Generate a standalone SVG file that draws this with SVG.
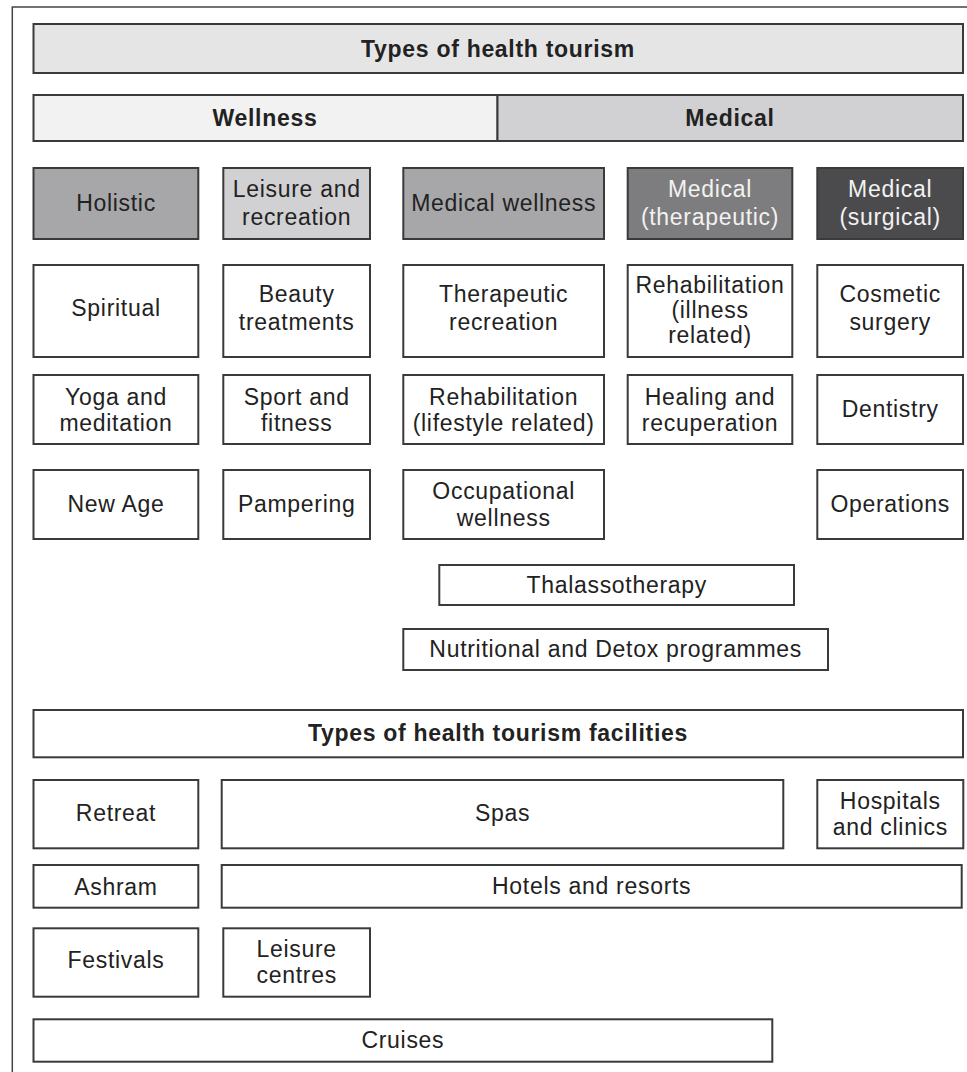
<svg xmlns="http://www.w3.org/2000/svg" width="967" height="1072" viewBox="0 0 967 1072">
<style>
.bx{stroke:#3a3a3a;stroke-width:2;fill:#fff}
.t{font-family:"Liberation Sans",Arial,sans-serif;font-size:23px;letter-spacing:0.7px;fill:#222;text-anchor:middle}
.b{font-weight:bold}
.w{fill:#f2f2f2}
.f0{fill:#e5e5e6}.f1{fill:#f2f2f3}.f2{fill:#d1d1d3}.f3{fill:#a7a7a9}.f4{fill:#7d7d7f}.f5{fill:#4b4b4d}
</style>
<rect x="0" y="0" width="967" height="1072" fill="#fff"/>
<rect id="frame" x="12.3" y="7" width="1000" height="1100" fill="none" stroke="#444" stroke-width="1.5"/>
<g id="connectors"></g>
<g id="title"><rect class="bx f0" x="33.5" y="24" width="929.5" height="49"/><text class="t b" x="498" y="57">Types of health tourism</text></g>
<g id="wellness"><rect class="bx f1" x="33.5" y="95" width="464" height="46"/><text class="t b" x="265" y="126">Wellness</text></g>
<g id="medical"><rect class="bx f2" x="497.5" y="95" width="465.5" height="46"/><text class="t b" x="730" y="126">Medical</text></g>

<g id="holistic"><rect class="bx f3" x="33.5" y="168" width="164.8" height="71"/><text class="t" x="116" y="211">Holistic</text></g>
<g id="leisure"><rect class="bx f2" x="223.3" y="168" width="146.7" height="71"/><text class="t" x="296.7" y="197">Leisure and</text><text class="t" x="296.7" y="225">recreation</text></g>
<g id="medwell"><rect class="bx f3" x="403.3" y="168" width="200.7" height="71"/><text class="t" x="503.7" y="211">Medical wellness</text></g>
<g id="medther"><rect class="bx f4" x="627.7" y="168" width="164.6" height="71"/><text class="t w" x="710" y="197">Medical</text><text class="t w" x="710" y="225">(therapeutic)</text></g>
<g id="medsurg"><rect class="bx f5" x="817.3" y="168" width="145.7" height="71"/><text class="t w" x="890.2" y="197">Medical</text><text class="t w" x="890.2" y="225">(surgical)</text></g>

<g id="spiritual"><rect class="bx" x="33.5" y="265" width="164.8" height="92"/><text class="t" x="116" y="316">Spiritual</text></g>
<g id="beauty"><rect class="bx" x="223.3" y="265" width="146.7" height="92"/><text class="t" x="296.7" y="302">Beauty</text><text class="t" x="296.7" y="330">treatments</text></g>
<g id="therrec"><rect class="bx" x="403.3" y="265" width="200.7" height="92"/><text class="t" x="503.7" y="302">Therapeutic</text><text class="t" x="503.7" y="330">recreation</text></g>
<g id="rehabill"><rect class="bx" x="627.7" y="265" width="164.6" height="92"/><text class="t" x="710" y="293">Rehabilitation</text><text class="t" x="710" y="318">(illness</text><text class="t" x="710" y="343">related)</text></g>
<g id="cosmetic"><rect class="bx" x="817.3" y="265" width="145.7" height="92"/><text class="t" x="890.2" y="302">Cosmetic</text><text class="t" x="890.2" y="330">surgery</text></g>

<g id="yoga"><rect class="bx" x="33.5" y="375" width="164.8" height="69"/><text class="t" x="116" y="405">Yoga and</text><text class="t" x="116" y="431">meditation</text></g>
<g id="sport"><rect class="bx" x="223.3" y="375" width="146.7" height="69"/><text class="t" x="296.7" y="405">Sport and</text><text class="t" x="296.7" y="431">fitness</text></g>
<g id="rehablife"><rect class="bx" x="403.3" y="375" width="200.7" height="69"/><text class="t" x="503.7" y="405">Rehabilitation</text><text class="t" x="503.7" y="431">(lifestyle related)</text></g>
<g id="healing"><rect class="bx" x="627.7" y="375" width="164.6" height="69"/><text class="t" x="710" y="405">Healing and</text><text class="t" x="710" y="431">recuperation</text></g>
<g id="dentistry"><rect class="bx" x="817.3" y="375" width="145.7" height="69"/><text class="t" x="890.2" y="417">Dentistry</text></g>

<g id="newage"><rect class="bx" x="33.5" y="470" width="164.8" height="69"/><text class="t" x="116" y="512">New Age</text></g>
<g id="pampering"><rect class="bx" x="223.3" y="470" width="146.7" height="69"/><text class="t" x="296.7" y="512">Pampering</text></g>
<g id="occupational"><rect class="bx" x="403.3" y="470" width="200.7" height="69"/><text class="t" x="503.7" y="499">Occupational</text><text class="t" x="503.7" y="526">wellness</text></g>
<g id="operations"><rect class="bx" x="817.3" y="470" width="145.7" height="69"/><text class="t" x="890.2" y="512">Operations</text></g>

<g id="thalasso"><rect class="bx" x="439.3" y="565" width="354.7" height="40"/><text class="t" x="616.7" y="593">Thalassotherapy</text></g>
<g id="nutritional"><rect class="bx" x="403.3" y="629" width="424.7" height="41"/><text class="t" x="615.7" y="657">Nutritional and Detox programmes</text></g>

<g id="facilities"><rect class="bx" x="33.5" y="710" width="929.5" height="47.3"/><text class="t b" x="498" y="741">Types of health tourism facilities</text></g>
<g id="retreat"><rect class="bx" x="33.5" y="780" width="164.8" height="68.3"/><text class="t" x="116" y="821">Retreat</text></g>
<g id="spas"><rect class="bx" x="221.7" y="780" width="561.6" height="68.3"/><text class="t" x="502.5" y="821">Spas</text></g>
<g id="hospitals"><rect class="bx" x="817.3" y="780" width="146" height="68.3"/><text class="t" x="890.3" y="809">Hospitals</text><text class="t" x="890.3" y="835">and clinics</text></g>
<g id="ashram"><rect class="bx" x="33.5" y="865" width="164.8" height="42.7"/><text class="t" x="116" y="895">Ashram</text></g>
<g id="hotels"><rect class="bx" x="221.7" y="865" width="740" height="42.7"/><text class="t" x="591.7" y="894">Hotels and resorts</text></g>
<g id="festivals"><rect class="bx" x="33.5" y="928.3" width="164.8" height="68.4"/><text class="t" x="116" y="968">Festivals</text></g>
<g id="leisurecentres"><rect class="bx" x="223.3" y="928.3" width="146.7" height="68.4"/><text class="t" x="296.7" y="957">Leisure</text><text class="t" x="296.7" y="983">centres</text></g>
<g id="cruises"><rect class="bx" x="33.5" y="1019.3" width="738.8" height="42.4"/><text class="t" x="402.9" y="1048">Cruises</text></g>
</svg>
